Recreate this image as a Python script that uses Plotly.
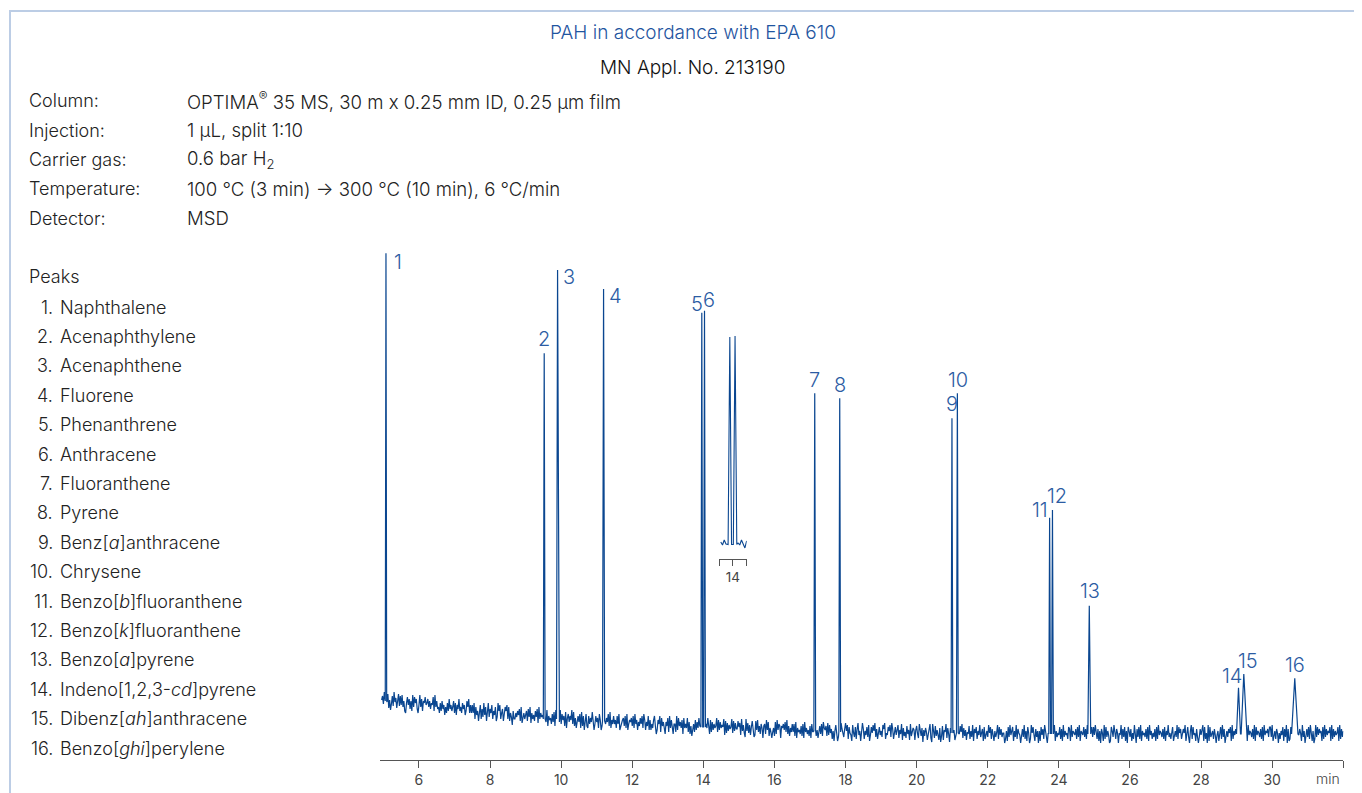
import plotly.graph_objects as go

# ---------------- data ----------------
peak_numbers = list(range(1, 17))
peak_names = [
    "Naphthalene", "Acenaphthylene", "Acenaphthene", "Fluorene", "Phenanthrene",
    "Anthracene", "Fluoranthene", "Pyrene", "Benz[<i>a</i>]anthracene", "Chrysene",
    "Benzo[<i>b</i>]fluoranthene", "Benzo[<i>k</i>]fluoranthene", "Benzo[<i>a</i>]pyrene",
    "Indeno[1,2,3-<i>cd</i>]pyrene", "Dibenz[<i>ah</i>]anthracene", "Benzo[<i>ghi</i>]perylene",
]
retention_min = [5.072, 9.523, 9.899, 11.193, 13.956, 14.032, 17.133, 17.836,
                 20.993, 21.145, 23.74, 23.82, 24.856, 29.053, 29.202, 30.636]
peak_apex = [481.7, 381.7, 465.0, 446.0, 422.3, 424.3, 341.7, 336.7,
             316.7, 341.7, 217.3, 225.0, 129.3, 47.3, 61.0, 56.7]
peak_halfwidth_min = [0.02, 0.025, 0.03, 0.03, 0.025, 0.025, 0.025, 0.025,
                      0.025, 0.025, 0.025, 0.025, 0.04, 0.056, 0.075, 0.09]

drift_minutes = list(range(5, 33))
drift_level = [34, 31, 27, 23, 19, 16, 14, 12, 10, 8, 7, 6, 4, 3, 3, 2, 2, 1,
               1, 1, 1, 1, 1, 1, 1, 1, 1, 1]

noise_start = 4.95
noise_step = 0.025
noise_digits = (
    "57392648150372946158274936105847261938572049371658"
    "45736254819364527384615273946358271649352746138592"
    "62849173504816293705926481537029581460375819264073"
    "36475829146357284916352748193645728391645273819465"
    "39274618057364928150463819270582173649503746185029"
    "57364829153746284913567382914657382946153748296153"
    "81625379402759184630648193720551928463708364927150"
    "46283749561827364951827364592837465918273645928374"
    "48571936209372615840184936275067294815303518294760"
    "65748392615374829164537281946352718493625147382965"
    "72938461505840217963269581743084271693504961537280"
    "37485926147352869143758296147358264917352846193576"
    "16842953706375148920952836417038165927407249613850"
    "48592736154826391758264935718246395827416359284735"
    "50261839478163927540473926185029584173606184729530"
    "56384729163548271936452871936547283916548372914658"
    "38495271607519283640186394275054927381608637152940"
    "73829164537281946253718294653728164935278146392857"
    "24759168306928451730374691825091835627404615829370"
    "46375819264738291654372819465372918465372819465738"
    "83914627505264817390712839564028475193604738295160"
    "29384756182937465819273645819273648591726354891726"
)
noise_scale = 2.0

tick_values = [6, 8, 10, 12, 14, 16, 18, 20, 22, 24, 26, 28, 30]
tick_labels = ["6", "8", "10", "12", "14", "16", "18", "20", "22", "24", "26", "28", "30"]
inset_ticks = [14.0]
inset_labels = ["14"]

conditions = [
    ("Column:", "OPTIMA<sup>®</sup> 35 MS, 30 m x 0.25 mm ID, 0.25 µm film"),
    ("Injection:", "1 µL, split 1:10"),
    ("Carrier gas:", "0.6 bar H<sub>2</sub>"),
    ("Temperature:", "100 °C (3 min) → 300 °C (10 min), 6 °C/min"),
    ("Detector:", "MSD"),
]

# label placement (pixel offsets from apex) -- styling only
label_dx = [12.5, 0, 11.3, 12.3, -5, 4.8, 0, 0, 0, 1, -9.5, 5, 0.6, -7, 4.5, 0.7]
label_dy = [-8.7, 13.8, -7.5, -7.5, 8.2, 10.7, 13.3, 13.3, 13.8, 13.3, 7.7, 14, 14.7, 11.7, 13, 13.6]

# ---------------- build trace ----------------
def drift_at(t):
    m = min(max(int(round(t)), drift_minutes[0]), drift_minutes[-1])
    return drift_level[drift_minutes.index(m)]

pts = []
for i, ch in enumerate(noise_digits):
    t = noise_start + i * noise_step
    if t > 32.0:
        break
    if any(abs(t - rt) <= hw + 0.008 for rt, hw in zip(retention_min, peak_halfwidth_min)):
        continue
    pts.append((t, drift_at(t) + (int(ch) - 4.5) * noise_scale))
for rt, ap, hw in zip(retention_min, peak_apex, peak_halfwidth_min):
    b = drift_at(rt)
    pts += [(rt - hw, b), (rt, ap), (rt + hw, b)]
pts.sort()
xs = [p[0] for p in pts]
ys = [p[1] for p in pts]
inset = [p for p in pts if 13.81 <= p[0] <= 14.2]

# the page body has an 8 px margin: figure is placed at (8, 8)
OFF = 8
W, H = 1362 - OFF, 793 - OFF
def px(x):
    return (x - OFF) / W
def py(y):
    return 1 - (y - OFF) / H

FONT = "Inter, Liberation Sans, Arial, sans-serif"
LINE = "#0a4690"
LABEL = "#2c5ca3"
TEXT = "#222222"
LEFT = 18

fig = go.Figure()
fig.add_trace(go.Scatter(x=xs, y=ys, mode="lines", line=dict(color=LINE, width=1.2),
                         xaxis="x", yaxis="y", hoverinfo="skip", showlegend=False))
fig.add_trace(go.Scatter(x=[p[0] for p in inset], y=[p[1] for p in inset], mode="lines",
                         line=dict(color=LINE, width=1.1), xaxis="x2", yaxis="y2",
                         hoverinfo="skip", showlegend=False))

def tfont(size, color):
    return dict(size=size, color=color, family=FONT, weight=300)

ann = []
ann.append(dict(text="PAH in accordance with EPA 610", x=px(692.5), y=py(33), xref="paper", yref="paper",
                xanchor="center", yanchor="middle", showarrow=False, font=tfont(19, "#1f55a0")))
ann.append(dict(text="MN Appl. No. 213190", x=px(692.5), y=py(68), xref="paper", yref="paper",
                xanchor="center", yanchor="middle", showarrow=False, font=tfont(19, "#111111")))
for k, (lab, val) in enumerate(conditions):
    yy = 101 + k * 29.3
    ann.append(dict(text=lab, x=px(27), y=py(yy), xref="paper", yref="paper", xanchor="left", yanchor="middle",
                    showarrow=False, font=tfont(LEFT, TEXT)))
    ann.append(dict(text=val, x=px(185), y=py(yy), xref="paper", yref="paper", xanchor="left", yanchor="middle",
                    showarrow=False, font=tfont(18.6, TEXT)))
ann.append(dict(text="Peaks", x=px(27), y=py(277), xref="paper", yref="paper", xanchor="left", yanchor="middle",
                showarrow=False, font=tfont(LEFT, TEXT)))
for k, (n, name) in enumerate(zip(peak_numbers, peak_names)):
    yy = 307 + k * 29.4
    ann.append(dict(text=f"{n}.", x=px(55), y=py(yy), xref="paper", yref="paper", xanchor="right", yanchor="middle",
                    showarrow=False, font=tfont(LEFT, TEXT)))
    ann.append(dict(text=name, x=px(58), y=py(yy), xref="paper", yref="paper", xanchor="left", yanchor="middle",
                    showarrow=False, font=tfont(LEFT, TEXT)))
for n, rt, ap, dx, dy in zip(peak_numbers, retention_min, peak_apex, label_dx, label_dy):
    ann.append(dict(text=str(n), x=rt, y=ap, xref="x", yref="y", xanchor="center", yanchor="middle",
                    xshift=dx, yshift=dy, showarrow=False, font=tfont(20, LABEL)))
ann.append(dict(text="min", x=px(1342), y=py(778), xref="paper", yref="paper", xanchor="right", yanchor="middle",
                showarrow=False, font=tfont(14, "#444444")))

shapes = [
    dict(type="line", xref="paper", yref="paper", x0=px(9), x1=1, y0=py(11), y1=py(11),
         line=dict(color="#bccde5", width=2)),
    dict(type="line", xref="paper", yref="paper", x0=px(10), x1=px(10), y0=py(11), y1=0,
         line=dict(color="#bccde5", width=2)),
]

fig.update_layout(
    width=W, height=H, margin=dict(l=0, r=0, t=0, b=0),
    paper_bgcolor="white", plot_bgcolor="white",
    annotations=ann, shapes=shapes, showlegend=False,
    xaxis=dict(domain=[px(380), px(1343.3)], range=[4.904, 32.001], showgrid=False, zeroline=False,
               showline=True, linecolor="#555555", linewidth=1.2, ticks="outside", ticklen=7,
               tickcolor="#555555", tickwidth=1.2, tickvals=tick_values, ticktext=tick_labels,
               minor=dict(tick0=6, dtick=2, ticks="outside", ticklen=7, tickcolor="#555555", tickwidth=1.2),
               tickfont=dict(size=14, color="#444444", family=FONT), anchor="y", fixedrange=True),
    yaxis=dict(domain=[py(760), py(250)], range=[-25, 485], visible=False, fixedrange=True),
    xaxis2=dict(domain=[px(719), px(746.7)], range=[13.799, 14.201], showgrid=False, zeroline=False,
                showline=True, linecolor="#555555", linewidth=1.2, ticks="outside", ticklen=6,
                tickcolor="#555555", tickwidth=1.2, tickvals=inset_ticks, ticktext=inset_labels,
                minor=dict(tick0=13.8, dtick=0.2, ticks="outside", ticklen=6, tickcolor="#555555", tickwidth=1.2),
                tickfont=dict(size=13.5, color="#444444", family=FONT), anchor="y2", fixedrange=True),
    yaxis2=dict(domain=[py(559), py(330)], range=[-21, 436.4], visible=False, fixedrange=True),
)

fig.write_html("out.html")
